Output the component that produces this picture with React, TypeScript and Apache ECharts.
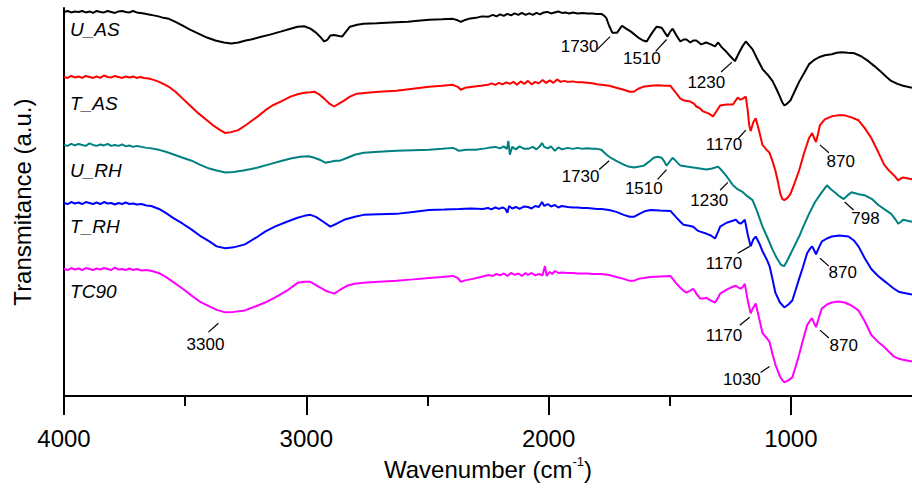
import React, { useEffect, useRef } from "react";
import * as echarts from "echarts";

const FONT = '"Liberation Sans", Arial, Helvetica, sans-serif';

const majorTicks = [4000, 3000, 2000, 1000];
const minorTicks = [3500, 2500, 1500];
const sampleNames = ["U_AS", "T_AS", "U_RH", "T_RH", "TC90"];
const sampleColors = ["#000000", "#ff0000", "#008080", "#0000ff", "#ff00ff"];

const U_AS = [[4000,390],[3985,391],[3970,389.5],[3955,390.5],[3940,390],[3925,391],[3910,389.5],[3895,390.5],[3880,389],[3865,391],[3850,390],[3835,389.5],[3820,391],[3805,390],[3790,389],[3775,390.5],[3760,391],[3745,390],[3730,389.5],[3715,391],[3700,389.5],[3685,389],[3670,388.5],[3650,387.5],[3630,386.5],[3610,385.5],[3590,384],[3567,383],[3540,380],[3510,376],[3480,372],[3445,368],[3410,364],[3375,361],[3340,359],[3310,358],[3280,359],[3250,361],[3228,362],[3190,364.5],[3150,367],[3106,370],[3065,373],[3036,375],[3008,375.5],[2983,373],[2960,369],[2940,364],[2926,360],[2912,362],[2901,366],[2885,366.5],[2865,365.5],[2852,365],[2836,370],[2820,375],[2790,377],[2763,378],[2709,378.5],[2670,379],[2628,379.5],[2580,380],[2540,381],[2493,382],[2440,382.5],[2395,383],[2375,381.5],[2362,380],[2348,381.5],[2330,383],[2300,384],[2275,385.5],[2250,385],[2230,387],[2215,385.5],[2200,387.5],[2185,386],[2170,388],[2155,386.5],[2140,388.5],[2125,387],[2110,389],[2095,387],[2080,388.5],[2065,387],[2050,389],[2035,387.5],[2020,389.5],[2005,390],[1990,388.5],[1975,389.5],[1960,390.5],[1945,389],[1930,389.5],[1915,388.5],[1900,389.5],[1880,388.5],[1860,389],[1840,388.5],[1820,388.5],[1800,388],[1782,388],[1770,386],[1762,384],[1750,376],[1737,369],[1717,369],[1697,376],[1680,373],[1660,370],[1630,364],[1610,361],[1595,360],[1575,368],[1554,375],[1533,374],[1520,369],[1509,365],[1498,370],[1488,373],[1472,366],[1456,360],[1443,362],[1431,362],[1415,359],[1403,361],[1390,361],[1370,357],[1350,359],[1330,357],[1313,355],[1300,359],[1285,354],[1268,350],[1250,345],[1231,340],[1215,348],[1200,355],[1186,360],[1172,356],[1158,352],[1140,343],[1117,332],[1095,326],[1076,320],[1060,312],[1047,305],[1035,298],[1027,295],[1015,297],[1002,300],[985,309],[966,319],[945,328],[925,337],[905,341],[884,344],[860,346],[831,347],[810,348.5],[790,349],[765,348.5],[737,348],[710,345],[680,340],[655,335],[627,329],[605,324],[586,320],[560,317],[537,315],[500,313]];

const T_AS = [[4000,324],[3985,323],[3970,325],[3955,323.5],[3940,324.5],[3925,323],[3910,325],[3895,324],[3880,323],[3865,324.5],[3850,323],[3835,325.5],[3820,324],[3805,323.5],[3790,325],[3775,324],[3760,323],[3745,324.5],[3730,323.5],[3715,324.5],[3700,323],[3685,324],[3670,323],[3650,322.5],[3630,321],[3608,319],[3590,317],[3567,314],[3540,309],[3510,302],[3480,295],[3445,287],[3410,280],[3380,274],[3355,270],[3334,267],[3310,268],[3281,270],[3250,275],[3228,279],[3200,284],[3170,290],[3140,295],[3106,299],[3065,304],[3036,306.5],[3008,308],[2983,308.5],[2967,309],[2945,306],[2926,302],[2905,297],[2885,294],[2865,297],[2844,300],[2820,304],[2791,307],[2750,308],[2700,309],[2628,310],[2560,312],[2493,314],[2440,315],[2395,316],[2375,314],[2362,311],[2345,313],[2313,314],[2280,315],[2250,316],[2235,317.5],[2220,316],[2205,318],[2190,316.5],[2175,318.5],[2160,317],[2145,319],[2130,316],[2115,319.5],[2100,317],[2085,320],[2070,316.5],[2055,319],[2040,317.5],[2025,321],[2010,318],[1995,320.5],[1980,318],[1965,321.5],[1950,319],[1935,320],[1921,319],[1900,319.5],[1880,318.5],[1860,318.5],[1840,318],[1820,317.5],[1800,316.5],[1782,316],[1750,315],[1720,313],[1690,311],[1665,309],[1648,309],[1630,312],[1610,314],[1578,315],[1550,315.5],[1520,315],[1497,315],[1475,308],[1456,302],[1440,300],[1415,299],[1400,297],[1390,294],[1375,292],[1362,289],[1340,287],[1321,284],[1305,290],[1292,295],[1265,296],[1239,296],[1228,300],[1219,303],[1208,301],[1198,302],[1186,304],[1178,290],[1172,275],[1166,269],[1155,278],[1145,282],[1130,268],[1117,255],[1100,250],[1088,247],[1075,238],[1064,229],[1052,216],[1043,205],[1035,200],[1027,199],[1015,201],[1002,205],[985,216],[966,229],[945,247],[925,262],[912,267],[904,262],[896,258],[888,266],[880,275],[860,281],[831,284],[805,285],[778,285],[750,283],[721,280],[695,272],[668,262],[640,248],[615,235],[595,229],[574,224],[557,219],[545,221],[537,222],[500,220]];

const U_RH = [[4000,255],[3985,254],[3970,256],[3955,254.5],[3940,256],[3925,255],[3910,254],[3895,256.5],[3880,255],[3865,254],[3850,255.5],[3835,254.5],[3820,256],[3805,254],[3790,255],[3775,254],[3760,255.5],[3745,253.5],[3730,254.5],[3715,253],[3700,254],[3680,253],[3660,252],[3640,251.5],[3608,250],[3580,248],[3550,245.5],[3510,242],[3473,239],[3440,235],[3400,231],[3370,229],[3334,227],[3300,227.5],[3260,229],[3228,230.5],[3200,232],[3150,235.5],[3100,239],[3060,241.5],[3024,243],[2990,243.5],[2967,242],[2945,240],[2922,237],[2900,238],[2880,239],[2861,239],[2830,242],[2800,245],[2763,247],[2700,248],[2628,249],[2560,249.5],[2493,250],[2440,251],[2395,252],[2380,250.5],[2370,249],[2340,250],[2301,250],[2260,251.5],[2240,252.5],[2219,253],[2200,251.5],[2185,253.5],[2172,251],[2166,259],[2160,245],[2150,253],[2135,250.5],[2120,253.5],[2100,251],[2085,251],[2065,253],[2050,250.5],[2035,254],[2027,257],[2018,253],[2003,251.5],[1990,253.5],[1974,249],[1960,252.5],[1945,250.5],[1921,252],[1900,251],[1880,252],[1860,251],[1840,251.5],[1820,251],[1800,251],[1782,250],[1765,246],[1750,243],[1737,241],[1715,238],[1690,235],[1670,233],[1648,232],[1625,233],[1607,234],[1585,238],[1566,242],[1550,243],[1533,242],[1522,238],[1513,234],[1500,238],[1488,242],[1472,238],[1456,234],[1430,233],[1403,232],[1375,231],[1350,230],[1325,231],[1300,233],[1285,229],[1268,224],[1250,218],[1239,214],[1220,210],[1198,207],[1180,203],[1158,199],[1140,188],[1117,172],[1095,160],[1076,149],[1060,141],[1043,134],[1035,132.5],[1027,132],[1010,140],[990,150],[966,162],[945,174],[925,185],[900,197],[875,206],[851,214],[835,210],[819,207],[800,203],[782,200],[765,204],[749,207],[720,205],[696,204],[665,200],[639,194],[610,189],[586,185],[570,180],[557,175],[545,177],[537,179],[500,177]];

const T_RH = [[4000,196],[3985,195],[3970,197],[3955,195.5],[3940,196.5],[3925,195],[3910,197],[3895,196],[3880,195],[3865,196.5],[3850,195],[3835,197],[3820,195.5],[3805,196],[3790,194.5],[3775,196],[3760,195],[3745,196.5],[3730,195],[3715,195.5],[3700,194.5],[3680,195],[3660,193.5],[3640,193],[3608,190],[3580,186],[3550,181],[3510,175],[3473,169],[3440,163],[3400,157],[3370,152],[3334,150],[3300,151],[3253,154],[3200,162],[3170,167],[3130,172],[3080,177],[3036,181],[3008,183],[2983,184],[2960,182],[2930,177],[2901,172],[2875,175],[2844,179],[2800,182],[2763,184],[2700,184.5],[2628,185],[2560,187],[2493,189],[2430,189.5],[2370,190],[2320,190.5],[2272,190],[2250,191],[2235,189.5],[2220,191.5],[2205,190],[2190,191.5],[2178,190],[2170,186],[2163,193],[2150,190.5],[2135,192],[2120,190],[2100,192.5],[2085,192],[2070,190.5],[2055,193],[2040,192],[2027,197],[2018,193],[2003,195],[1990,192.5],[1974,194],[1960,191.5],[1945,193],[1921,192],[1900,191.5],[1880,191.5],[1860,191],[1840,191],[1820,190.5],[1800,190],[1782,190],[1750,189],[1720,187],[1690,184],[1665,182],[1648,182],[1625,185],[1600,188],[1578,189],[1540,188.5],[1497,188],[1475,182],[1456,177],[1443,174],[1420,173],[1403,172],[1385,168],[1374,167],[1350,165],[1330,163],[1313,160],[1300,167],[1292,172],[1265,176],[1240,178],[1227,179],[1215,176],[1207,175],[1198,177],[1190,179],[1178,164],[1166,152],[1155,159],[1145,162],[1130,155],[1117,147],[1100,139],[1088,132],[1075,118],[1064,105],[1045,95],[1027,90],[1010,93],[994,97],[980,108],[966,119],[950,131],[933,145],[920,150],[912,152],[904,148],[896,144],[884,151],[872,157],[851,160],[831,162],[800,163],[762,162],[740,158],[721,152],[695,140],[668,129],[640,122],[615,117],[595,113],[574,109],[555,106],[537,105],[500,103]];

const TC90 = [[4000,129],[3985,128],[3970,130],[3955,128.5],[3940,129.5],[3925,128],[3910,130],[3895,129],[3880,128],[3865,129.5],[3850,128.5],[3835,130],[3820,129],[3805,128],[3790,130.5],[3775,128.5],[3760,129],[3745,128],[3730,129.5],[3715,128],[3700,129],[3680,127.5],[3660,128],[3637,127],[3610,125],[3580,121],[3550,116],[3510,109],[3473,102],[3440,96],[3400,91],[3370,87.5],[3334,85],[3300,85.5],[3253,87],[3200,92],[3170,95],[3130,100],[3080,107],[3036,115],[3008,116],[2983,116],[2955,112],[2920,107],[2885,104],[2860,108],[2832,112],[2800,114],[2763,115],[2700,116],[2628,117],[2560,118.5],[2493,120],[2440,121],[2395,122],[2375,120],[2362,116],[2345,117.5],[2313,119],[2280,121],[2248,123],[2230,122],[2215,124],[2200,122.5],[2185,124.5],[2170,122],[2155,125],[2140,123],[2125,124.5],[2110,122],[2095,125],[2085,123],[2070,125],[2055,122.5],[2040,124],[2025,122.5],[2015,132],[2008,122],[1995,126],[1985,124],[1974,127],[1960,125],[1945,125.5],[1921,125],[1900,125],[1880,124.5],[1860,124.5],[1840,124.5],[1820,124],[1800,124],[1782,124],[1750,123],[1720,121],[1690,119],[1665,117],[1648,117],[1630,119],[1607,120],[1580,121],[1540,121.5],[1497,122],[1475,115],[1456,110],[1443,107],[1431,105],[1415,107],[1403,109],[1390,104],[1374,99],[1360,99],[1350,100],[1330,97],[1313,95],[1300,100],[1292,104],[1265,108],[1240,111],[1227,112],[1215,110],[1207,109],[1198,111],[1190,114],[1178,97],[1166,84],[1155,90],[1145,94],[1130,78],[1117,64],[1100,59],[1088,55],[1075,42],[1064,32],[1045,20],[1035,16],[1027,14],[1010,16],[994,19],[980,30],[966,42],[950,57],[933,72],[920,77],[912,79],[904,74],[896,70],[884,80],[872,89],[851,93],[831,95],[805,96],[778,95],[750,92],[721,87],[695,76],[668,62],[640,55],[615,50],[595,45],[574,40],[555,38],[537,37],[500,35]];

// sample name label anchors [wavenumber, value]
const sampleLabelAnchors = [[3975, 372], [3975, 297], [3975, 229], [3975, 172], [3975, 106]];

// peak annotations: text centre, leader line start and end, in data units
const peakLabels = [
  { text: "1730", at: [1872, 355], from: [1799, 352], to: [1746, 365] },
  { text: "1510", at: [1615, 343], from: [1558, 350], to: [1513, 362] },
  { text: "1230", at: [1349, 318], from: [1288, 329], to: [1243, 339] },
  { text: "1170", at: [1276, 255], from: [1219, 261], to: [1186, 270] },
  { text: "870", at: [794, 238], from: [880, 255], to: [843, 247] },
  { text: "1730", at: [1868, 223], from: [1791, 230], to: [1750, 239] },
  { text: "1510", at: [1607, 211], from: [1550, 220], to: [1513, 230] },
  { text: "1230", at: [1337, 199], from: [1292, 209], to: [1260, 217] },
  { text: "798", at: [692, 180], from: [778, 197], to: [741, 189] },
  { text: "1170", at: [1276, 135], from: [1219, 145], to: [1170, 152] },
  { text: "870", at: [786, 125], from: [880, 140], to: [843, 132] },
  { text: "1170", at: [1276, 62], from: [1211, 72], to: [1170, 80] },
  { text: "870", at: [782, 51], from: [880, 67], to: [843, 59] },
  { text: "1030", at: [1202, 17], from: [1125, 24], to: [1088, 30] },
  { text: "3300", at: [3416, 52], from: [3404, 65], to: [3363, 74] },
];

export default function App() {
  const ref = useRef<HTMLDivElement>(null);
  useEffect(() => {
    document.body.style.margin = "0";
    const chart = echarts.init(ref.current as HTMLDivElement, null, { renderer: "svg" });
    const seriesData = [U_AS, T_AS, U_RH, T_RH, TC90];
    chart.setOption({
      animation: false,
      grid: { left: 64, right: -9, top: 8, bottom: 86 },
      xAxis: [
        {
          type: "value", min: 500, max: 4000, inverse: true, position: "bottom",
          axisLine: { onZero: false, lineStyle: { color: "#000", width: 2 } },
          axisTick: { show: true, customValues: majorTicks, length: 19, lineStyle: { color: "#000", width: 2 } },
          axisLabel: {
            customValues: majorTicks, fontSize: 24, color: "#000", fontFamily: FONT, margin: 30,
            formatter: (v: number) => String(v),
          },
          splitLine: { show: false },
          name: "Wavenumber (cm{sup|-1})", nameLocation: "middle", nameGap: 52,
          nameTextStyle: {
            fontSize: 24, color: "#000", fontFamily: FONT, lineHeight: 28,
            rich: { sup: { fontSize: 13, color: "#000", fontFamily: FONT, verticalAlign: "top", lineHeight: 28 } },
          },
        },
        {
          type: "value", min: 500, max: 4000, inverse: true, position: "bottom",
          axisLine: { show: false, onZero: false },
          axisTick: { show: true, customValues: minorTicks, length: 10, lineStyle: { color: "#000", width: 2 } },
          axisLabel: { show: false },
          splitLine: { show: false },
        },
      ],
      yAxis: {
        type: "value", min: 0, max: 394,
        axisLine: { show: true, lineStyle: { color: "#000", width: 2 } },
        axisTick: { show: false }, axisLabel: { show: false }, splitLine: { show: false },
        name: "Transmitance (a.u.)", nameLocation: "middle", nameGap: 30,
        nameTextStyle: { fontSize: 24, color: "#000", fontFamily: FONT },
      },
      series: seriesData.map((d, i) => ({
        type: "line", name: sampleNames[i], data: d, xAxisIndex: 0, yAxisIndex: 0,
        showSymbol: false, symbol: "none", silent: true,
        lineStyle: { color: sampleColors[i], width: 2 }, itemStyle: { color: sampleColors[i] },
      })),
    });

    const px = (p: number[]) => chart.convertToPixel({ xAxisIndex: 0, yAxisIndex: 0 }, p) as number[];
    const graphics: any[] = [];
    peakLabels.forEach((a) => {
      const t = px(a.at), f = px(a.from), e = px(a.to);
      graphics.push({
        type: "text", x: t[0], y: t[1], silent: true,
        style: { text: a.text, fontSize: 17, fontFamily: FONT, fill: "#000", align: "center", verticalAlign: "middle", textAlign: "center", textVerticalAlign: "middle" },
      });
      graphics.push({
        type: "line", silent: true,
        shape: { x1: f[0], y1: f[1], x2: e[0], y2: e[1] },
        style: { stroke: "#000", lineWidth: 1.2 },
      });
    });
    sampleNames.forEach((n, i) => {
      const p = px(sampleLabelAnchors[i]);
      graphics.push({
        type: "text", x: p[0], y: p[1], silent: true,
        style: { text: n, fontSize: 19, fontStyle: "italic", fontFamily: FONT, fill: "#000", align: "left", verticalAlign: "middle", textAlign: "left", textVerticalAlign: "middle" },
      });
    });
    chart.setOption({ graphic: graphics });

    return () => chart.dispose();
  }, []);
  return <div ref={ref} style={{ width: 912, height: 488 }} />;
}
